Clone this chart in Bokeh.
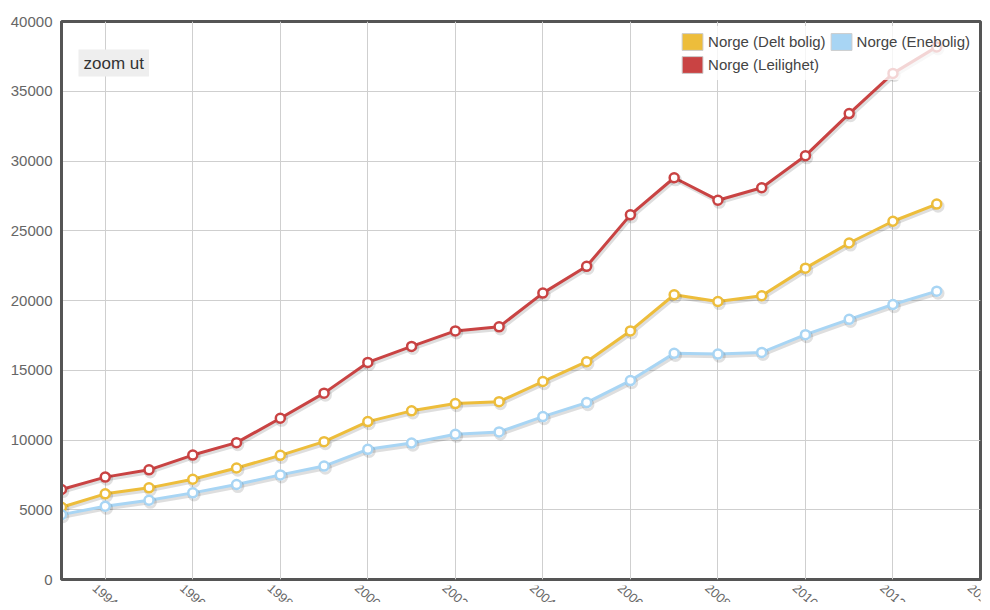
import math
from bokeh.plotting import figure
from bokeh.layouts import column
from bokeh.models import (ColumnDataSource, FixedTicker, Legend, LegendItem, Label,
                          Range1d)
from bokeh.core.properties import value
from bokeh.transform import dodge
from bokeh.embed import file_html
from bokeh.resources import INLINE

years = list(range(1993, 2014))
delt_bolig = [5180, 6140, 6570, 7190, 7990, 8900, 9880, 11320, 12090, 12610, 12750,
              14190, 15610, 17820, 20410, 19930, 20340, 22320, 24120, 25680, 26910]
enebolig = [4650, 5250, 5680, 6210, 6810, 7500, 8130, 9330, 9780, 10410, 10580,
            11680, 12680, 14260, 16210, 16160, 16280, 17550, 18650, 19710, 20670]
leilighet = [6450, 7340, 7860, 8920, 9810, 11560, 13360, 15560, 16710, 17820, 18110,
             20530, 22450, 26140, 28800, 27190, 28080, 30380, 33400, 36280, 38180]

series_names = ["Norge (Delt bolig)", "Norge (Enebolig)", "Norge (Leilighet)"]
series_values = [delt_bolig, enebolig, leilighet]
series_colors = ["#EDBD3B", "#A8D5F4", "#C94343"]

x_ticks = list(range(1994, 2015, 2))
x_tick_labels = [str(t) for t in x_ticks]
y_ticks = list(range(0, 40001, 5000))

FONT = "Liberation Sans"

p = figure(width=982, height=585, output_backend="svg", toolbar_location=None,
           x_range=Range1d(1993, 2014), y_range=Range1d(0, 40000),
           min_border_left=61, min_border_right=2, min_border_top=21,
           min_border_bottom=6)

p.background_fill_color = "white"
p.border_fill_color = "white"
p.outline_line_color = "#555555"
p.outline_line_width = 3

p.xgrid.ticker = FixedTicker(ticks=x_ticks)
p.ygrid.ticker = FixedTicker(ticks=y_ticks)
p.xgrid.grid_line_color = "#cfcfcf"
p.ygrid.grid_line_color = "#cfcfcf"

p.xaxis.visible = False

yax = p.yaxis[0]
yax.axis_line_color = "#555555"
yax.axis_line_width = 3
yax.major_tick_out = 0
yax.major_tick_in = 0
yax.minor_tick_out = 0
yax.minor_tick_in = 0
yax.major_label_text_font = FONT
yax.major_label_text_font_size = "15px"
yax.major_label_text_color = "#666666"
yax.ticker = FixedTicker(ticks=y_ticks)
yax.major_label_standoff = 9

for name, vals, col in zip(series_names, series_values, series_colors):
    src = ColumnDataSource(dict(x=years, y=vals))
    p.line(dodge("x", 0.03), dodge("y", -150), source=src, line_color="black",
           line_alpha=0.13, line_width=4)
    p.line("x", "y", source=src, line_color=col, line_width=3)
    p.scatter(dodge("x", 0.03), dodge("y", -150), source=src, size=10,
              fill_alpha=0, line_color="black", line_alpha=0.12, line_width=3)
    p.scatter("x", "y", source=src, size=9, fill_color="white",
              line_color=col, line_width=2.5)

# legend swatches (hidden proxy renderers)
legend_items = []
for name, vals, col in zip(series_names, series_values, series_colors):
    sw = p.quad(left=[years[0]], right=[years[0]], top=[vals[0]], bottom=[vals[0]],
                fill_color=col, line_color="#cccccc", line_width=1)
    sw.visible = False
    legend_items.append(LegendItem(label=name, renderers=[sw]))

legend = Legend(items=legend_items, location="top_right", orientation="horizontal",
                ncols=2, margin=5, padding=5, spacing=2, glyph_width=26,
                glyph_height=21, label_height=21, label_standoff=3,
                label_text_font=FONT, label_text_font_size="15px",
                label_text_color="#444444", background_fill_color="white",
                background_fill_alpha=0.78, border_line_alpha=0)
p.add_layout(legend)

zoom_btn = Label(x=17, y=503, x_units="screen", y_units="screen", text="zoom ut",
                 text_font=FONT, text_font_size="17px", text_color="#333333",
                 background_fill_color="#eeeeee", padding=(5, 4))
p.add_layout(zoom_btn)

# strip below the plot carrying the rotated year labels (shares the x range)
px = figure(width=982, height=17, output_backend="svg", toolbar_location=None,
            x_range=p.x_range, y_range=Range1d(0, 1),
            min_border_left=61, min_border_right=2, min_border_top=0,
            min_border_bottom=0)
px.axis.visible = False
px.grid.visible = False
px.outline_line_color = None
px.background_fill_color = "white"
px.border_fill_color = "white"
xl_src = ColumnDataSource(dict(x=x_ticks, y=[1] * len(x_ticks), text=x_tick_labels))
px.text(x="x", y="y", text="text", source=xl_src, angle=-math.radians(42),
        text_align="center", text_baseline="middle", y_offset=10,
        text_font=value(FONT), text_font_size="13px", text_color="#666666")

layout = column(p, px, spacing=0)
open("out.html", "w").write(file_html(layout, INLINE))
